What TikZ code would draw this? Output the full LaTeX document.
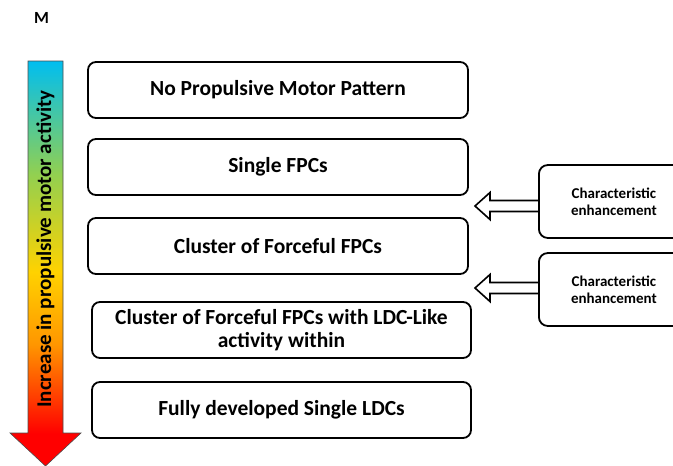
\documentclass[tikz,border=0pt]{standalone}
\usepackage{fontspec}
\setmainfont{Carlito}
\usetikzlibrary{arrows.meta,positioning}
\definecolor{actred}{RGB}{255,0,0}
\definecolor{actorange}{RGB}{255,150,0}
\definecolor{actyellow}{RGB}{255,210,0}
\definecolor{actgreen}{RGB}{146,208,80}
\definecolor{actcyan}{RGB}{0,190,240}
\pgfdeclareverticalshading{activity}{100bp}{%
  color(0bp)=(actred); color(29bp)=(actred); color(40bp)=(actorange);
  color(49bp)=(actyellow); color(61bp)=(actgreen); color(75bp)=(actcyan);
  color(100bp)=(actcyan)}

\begin{document}
\begin{tikzpicture}[x=1pt, y=-1pt,
    stage/.style={draw, line width=1.8pt, rounded corners=8pt, minimum width=380pt,
      minimum height=56pt, align=center, font=\bfseries\fontsize{21.5}{23}\selectfont},
    factor/.style={draw, line width=1.8pt, rounded corners=9pt, minimum width=150pt,
      minimum height=73pt, align=center, font=\bfseries\fontsize{15}{17}\selectfont},
    blockarrow/.style={line width=1.6pt, line join=miter}]
	\useasboundingbox (0,0) rectangle (673,466);
	\node[font=\bfseries\fontsize{17}{19}\selectfont] (lab) at (41.5,18) {M};
	
	% gradient arrow
	\shade[shading=activity, draw=black!70, line width=0.6pt]
	  (28,61) -- (63,61) -- (63,433) -- (81,433) -- (45.5,466) -- (10,433) -- (28,433) -- cycle;
	\node[rotate=90, font=\bfseries\fontsize{21}{23}\selectfont] (axis) at (45.5,249) {Increase in propulsive motor activity};
	
	% stages
	\node[stage] (s1) at (278,90) {No Propulsive Motor Pattern};
	\node[stage] (s2) at (278,167) {Single FPCs};
	\node[stage] (s3) at (278,246) {Cluster of Forceful FPCs};
	\node[stage, minimum width=379pt] (s4) at (281.5,330) {Cluster of Forceful FPCs with LDC-Like\\activity within};
	\node[stage, minimum width=379pt] (s5) at (281.5,410) {Fully developed Single LDCs};
	
	% enhancement
	\node[factor, anchor=west] (e1) at (538,201.5) {Characteristic\\enhancement};
	\node[factor, anchor=west] (e2) at (538,289.5) {Characteristic\\enhancement};
	\coordinate (t1) at (475,206);
	\coordinate (t2) at (475,288);
	\draw[blockarrow] (e1.west |- t1) ++(0,-5.5) -- ++(-48,0) -- ++(0,-8) -- (t1)
	  -- ++(15,13.5) -- ++(0,-8) -- ++(48,0);
	\draw[blockarrow] (e2.west |- t2) ++(0,-5.5) -- ++(-48,0) -- ++(0,-8) -- (t2)
	  -- ++(15,13.5) -- ++(0,-8) -- ++(48,0);
\end{tikzpicture}
\end{document}
